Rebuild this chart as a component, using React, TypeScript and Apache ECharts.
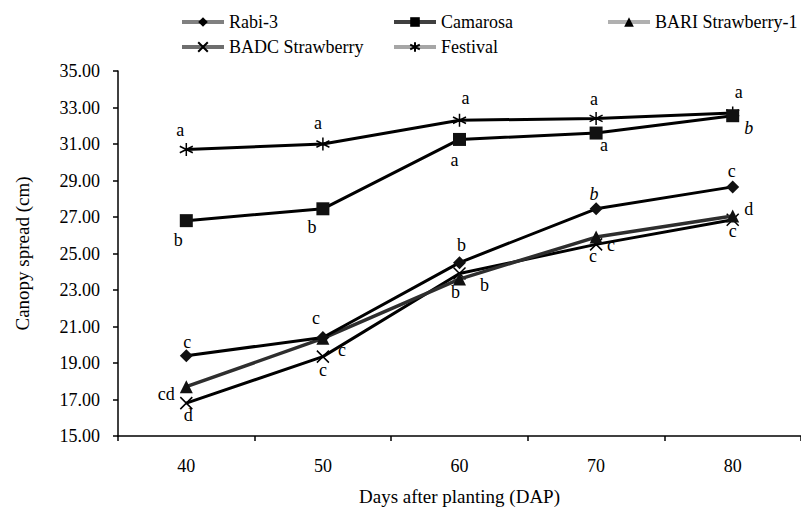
import React, { useEffect, useRef } from "react";
import * as echarts from "echarts";

// ---- data ----
const days = ["40", "50", "60", "70", "80"];
const rabi3 = [19.4, 20.4, 24.5, 27.45, 28.65];
const camarosa = [26.8, 27.45, 31.25, 31.6, 32.55];
const bari1 = [17.7, 20.35, 23.6, 25.9, 27.05];
const badc = [16.8, 19.35, 23.9, 25.5, 26.85];
const festival = [30.7, 31.0, 32.3, 32.4, 32.7];

// significance letters
const rabi3Letters = ["c", "c", "b", "b", "c"];
const camarosaLetters = ["b", "b", "a", "a", "b"];
const bari1Letters = ["cd", "c", "b", "c", "d"];
const badcLetters = ["d", "c", "b", "c", "c"];
const festivalLetters = ["a", "a", "a", "a", "a"];

const yTicks = { min: 15, max: 35, interval: 2 };

// ---- label placement (style only) ----
const rabi3Off = [[1, -14], [-7, -19], [2, -18], [-2, -15], [-1, -16]];
const camarosaOff = [[-8, 19], [-11, 18], [-5, 21], [8, 12], [16, 12]];
const bari1Off = [[-20, 7], [19, 12], [25, 6], [15, 8], [16, -7]];
const badcOff = [[2, 12], [0, 13], [-4, 18], [-3, 12], [0, 11]];
const festivalOff = [[-6, -19], [-5, -21], [6, -22], [-2, -19], [6, -21]];
const italicPts: Record<string, number[]> = { rabi3: [3], camarosa: [4] };

const FONT = "'Liberation Serif', 'Times New Roman', serif";
const X_PATH = "path://M0,0L10,10M10,0L0,10";
const AST_PATH = "path://M5,0L5,10M0,2.5L10,7.5M0,7.5L10,2.5";

function mk(values: number[], letters: string[], offs: number[][], key: string) {
  return values.map((v, i) => ({
    value: v,
    label: {
      show: true,
      formatter: letters[i],
      position: "inside",
      offset: offs[i],
      fontStyle: (italicPts[key] || []).includes(i) ? "italic" : "normal",
    },
  }));
}

export default function App() {
  const ref = useRef<HTMLDivElement>(null);
  useEffect(() => {
    if (!ref.current) return;
    const chart = echarts.init(ref.current, undefined, { renderer: "svg" });
    const labelBase = {
      show: true,
      color: "#000",
      fontFamily: FONT,
      fontSize: 18,
      align: "center",
      verticalAlign: "middle",
    };
    const mkSeries = (
      name: string,
      data: any[],
      symbol: string,
      symbolSize: number,
      color: string,
      width: number,
      stroke: boolean,
      z: number
    ) => ({
      name,
      type: "line",
      data,
      symbol,
      symbolSize,
      z,
      lineStyle: { color, width },
      itemStyle: {
        color: stroke ? "#000" : "#111",
        borderColor: "#000",
        borderWidth: stroke ? 1.5 : 0,
      },
      label: labelBase,
    });
    const legendItem = (
      name: string,
      left: number,
      top: number,
      lineColor: string
    ) => ({
      left,
      top,
      itemWidth: 42,
      itemHeight: 12,
      padding: 0,
      textStyle: { fontFamily: FONT, fontSize: 18, color: "#000" },
      data: [
        {
          name,
          lineStyle: { color: lineColor, width: 4 },
          itemStyle: { color: "#000", borderColor: "#000" },
        },
      ],
    });
    chart.setOption({
      animation: false,
      backgroundColor: "#fff",
      textStyle: { fontFamily: FONT },
      legend: [
        legendItem("Rabi-3", 180, 13, "#808080"),
        legendItem("Camarosa", 392, 13, "#404040"),
        legendItem("BARI Strawberry-1", 606, 13, "#b0b0b0"),
        legendItem("BADC Strawberry", 180, 38, "#6e6e6e"),
        legendItem("Festival", 392, 38, "#a6a6a6"),
      ],
      grid: { left: 118, right: -5, top: 71, bottom: 65, containLabel: false },
      xAxis: {
        type: "category",
        data: days,
        boundaryGap: true,
        name: "Days after planting (DAP)",
        nameLocation: "middle",
        nameGap: 51,
        nameTextStyle: { fontFamily: FONT, fontSize: 19, color: "#000" },
        axisLine: { lineStyle: { color: "#000", width: 1.5 } },
        axisTick: { show: true, length: 5, alignWithLabel: false, lineStyle: { color: "#000", width: 1.5 } },
        axisLabel: { fontFamily: FONT, fontSize: 18, color: "#000", margin: 21 },
        splitLine: { show: false },
      },
      yAxis: {
        type: "value",
        min: yTicks.min,
        max: yTicks.max,
        interval: yTicks.interval,
        name: "Canopy spread (cm)",
        nameLocation: "middle",
        nameGap: 86,
        nameTextStyle: { fontFamily: FONT, fontSize: 19, color: "#000" },
        axisLine: { show: true, lineStyle: { color: "#000", width: 1.5 } },
        axisTick: { show: true, length: 5, lineStyle: { color: "#000", width: 1.5 } },
        axisLabel: {
          fontFamily: FONT,
          fontSize: 18,
          color: "#000",
          margin: 18,
          formatter: (v: number) => v.toFixed(2),
        },
        splitLine: { show: false },
      },
      series: [
        mkSeries("Festival", mk(festival, festivalLetters, festivalOff, "festival"), AST_PATH, 13, "#000", 3, true, 2),
        mkSeries("BADC Strawberry", mk(badc, badcLetters, badcOff, "badc"), X_PATH, 12, "#000", 3, true, 3),
        mkSeries("BARI Strawberry-1", mk(bari1, bari1Letters, bari1Off, "bari1"), "triangle", 13, "#2e2e2e", 3.5, false, 4),
        mkSeries("Rabi-3", mk(rabi3, rabi3Letters, rabi3Off, "rabi3"), "diamond", 13, "#000", 3, false, 5),
        mkSeries("Camarosa", mk(camarosa, camarosaLetters, camarosaOff, "camarosa"), "rect", 13, "#000", 3, false, 6),
      ],
    });
    return () => chart.dispose();
  }, []);
  return (
    <div
      ref={ref}
      style={{ position: "fixed", left: 0, top: 0, width: 801, height: 511 }}
    />
  );
}
